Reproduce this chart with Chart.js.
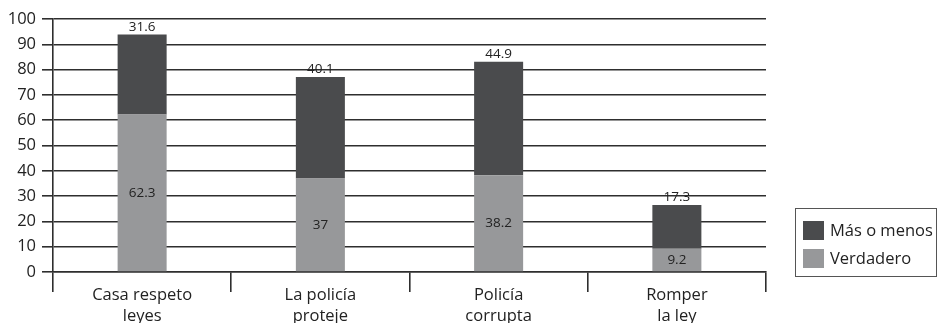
<!DOCTYPE html>
<html>
<head>
<meta charset="utf-8">
<script src="https://cdn.jsdelivr.net/npm/chart.js@4/dist/chart.umd.min.js"></script>
<style>
  html, body { margin: 0; padding: 0; background: #fff; overflow: hidden; }
  #wrap { position: relative; width: 938px; height: 323px; }
</style>
</head>
<body>
<div id="wrap"><canvas id="c" width="938" height="323"></canvas></div>
<script>
// Categories (two-line labels) and the two stacked series
const categories = [
  ['Casa respeto', 'leyes'],
  ['La policía', 'proteje'],
  ['Policía', 'corrupta'],
  ['Romper', 'la ley']
];
const verdadero = [62.3, 37, 38.2, 9.2];
const masOMenos = [31.6, 40.1, 44.9, 17.3];
const yTicks = [0, 10, 20, 30, 40, 50, 60, 70, 80, 90, 100];

const FONT = '"Open Sans", "DejaVu Sans", sans-serif';
const DARK = '#4a4b4d';
const LIGHT = '#97989a';
const LINE = '#2e2e2e';

// Value labels: dark segment labels sit above the stack, light ones inside the segment
const valueLabels = {
  id: 'valueLabels',
  afterDatasetsDraw(chart) {
    const ctx = chart.ctx;
    ctx.save();
    ctx.font = '13.5px ' + FONT;
    ctx.fillStyle = '#222';
    ctx.textAlign = 'center';
    chart.data.datasets.forEach((ds, di) => {
      const meta = chart.getDatasetMeta(di);
      meta.data.forEach((bar, i) => {
        const txt = String(ds.data[i]);
        if (ds.labelPos === 'top') {
          ctx.textBaseline = 'bottom';
          ctx.fillText(txt, bar.x, bar.y - 1);
        } else {
          ctx.textBaseline = 'middle';
          ctx.fillText(txt, bar.x, (bar.y + bar.base) / 2);
        }
      });
    });
    ctx.restore();
  }
};

// Boxed legend at the lower right
const boxLegend = {
  id: 'boxLegend',
  afterDraw(chart) {
    const ctx = chart.ctx;
    const x = 795, y = 208, w = 142, h = 69;
    ctx.save();
    ctx.strokeStyle = '#555';
    ctx.lineWidth = 1;
    ctx.strokeRect(x + 0.5, y + 0.5, w - 1, h - 1);
    const items = chart.data.datasets.slice().reverse();
    items.forEach((ds, k) => {
      const sy = y + 13 + k * 28;
      ctx.fillStyle = ds.backgroundColor;
      ctx.fillRect(x + 8, sy, 21, 19);
      ctx.fillStyle = '#222';
      ctx.font = '16.5px ' + FONT;
      ctx.textAlign = 'left';
      ctx.textBaseline = 'middle';
      ctx.fillText(ds.label, x + 35, sy + 10);
    });
    ctx.restore();
  }
};

new Chart(document.getElementById('c'), {
  type: 'bar',
  data: {
    labels: categories,
    datasets: [
      { label: 'Verdadero', data: verdadero, backgroundColor: LIGHT, labelPos: 'mid' },
      { label: 'Más o menos', data: masOMenos, backgroundColor: DARK, labelPos: 'top' }
    ]
  },
  options: {
    responsive: false,
    animation: false,
    devicePixelRatio: 1,
    layout: { padding: { top: 19, right: 172, bottom: 0, left: 0 } },
    datasets: { bar: { categoryPercentage: 1, barPercentage: 0.275 } },
    plugins: { legend: { display: false }, tooltip: { enabled: false } },
    scales: {
      x: {
        stacked: true,
        afterFit(scale) { scale.height = 51; },
        grid: { offset: true, drawOnChartArea: false, drawTicks: true, tickLength: 20, color: LINE, lineWidth: 1.6 },
        border: { display: true, color: LINE, width: 1.6 },
        ticks: { color: '#222', padding: -7, font: { family: FONT, size: 16.5, lineHeight: 1.25 } }
      },
      y: {
        stacked: true,
        min: 0, max: 100,
        afterBuildTicks(scale) { scale.ticks = yTicks.map(v => ({ value: v })); },
        afterFit(scale) { scale.width = 53; },
        grid: { color: LINE, lineWidth: 1.6, tickLength: 11 },
        border: { display: true, color: LINE, width: 1.6 },
        ticks: { color: '#222', padding: 6, font: { family: FONT, size: 16.5 } }
      }
    }
  },
  plugins: [valueLabels, boxLegend]
});
</script>
</body>
</html>
